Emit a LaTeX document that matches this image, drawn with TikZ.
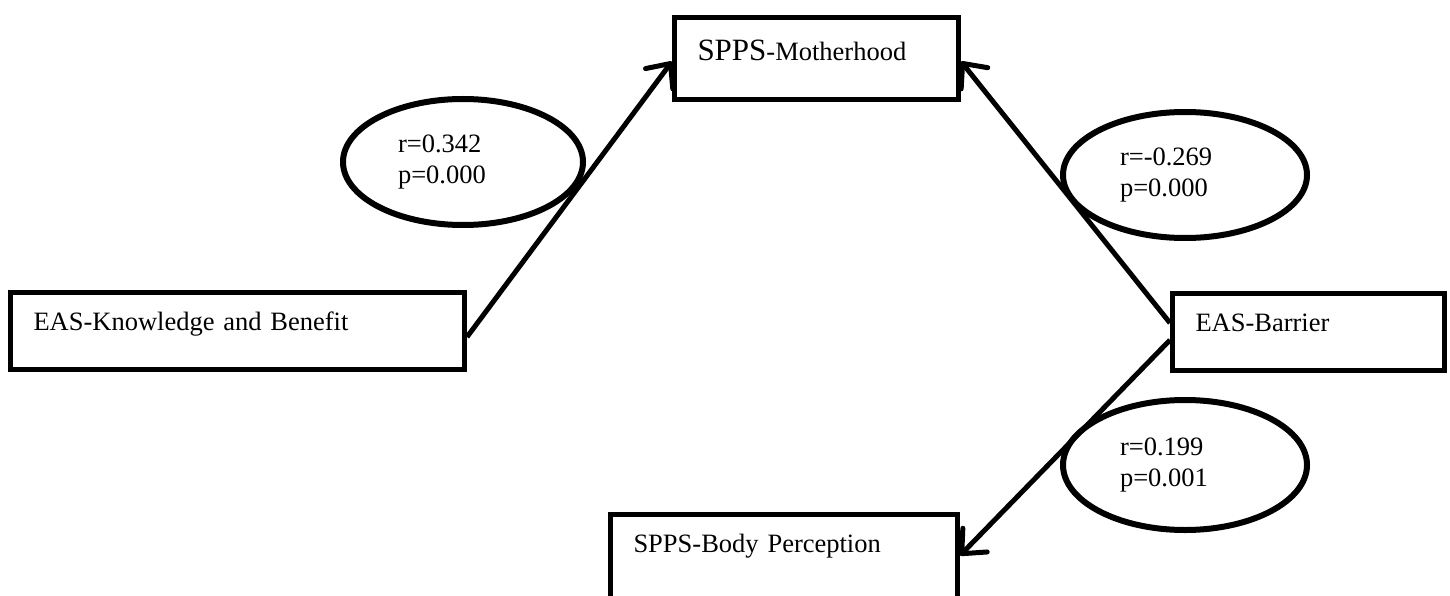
\documentclass[tikz,border=0pt]{standalone}
\usepackage{fontspec}
\setmainfont{Liberation Serif}
\usetikzlibrary{shapes.geometric,arrows.meta}
\tikzset{
  varbox/.style={draw, rectangle, line width=5pt, inner xsep=23pt, inner ysep=0pt,
    text height=38pt, text depth=39pt, align=left, anchor=north west},
  corr/.style={draw, ellipse, line width=6pt, minimum width=240pt, minimum height=126pt,
    inner sep=0pt, text width=130pt, align=left},
  link/.style={line width=5pt, -{Straight Barb[length=19pt,width=34pt,round]}}
}
\begin{document}
\begin{tikzpicture}[x=1pt,y=-1pt,font=\fontsize{26.5}{31}\selectfont]
 \useasboundingbox (0,0) rectangle (1450,596);
 \clip (0,0) rectangle (1450,596);
 % variables
 \node[varbox, text width=238pt, text height=43pt] (moth) at (672,15) {{\fontsize{31}{36}\selectfont SPPS}-Motherhood};
 \node[varbox, text width=408pt] (kb) at (8,290) {EAS-Knowledge and Benefit};
 \node[varbox, text width=226pt] (bar) at (1170,291) {EAS-Barrier};
 \node[varbox, text width=301pt, text depth=50pt] (bp) at (608,512) {SPPS-Body Perception};
 % correlations
 \node[corr] (c1) at (463,162) {r=0.342\\p=0.000};
 \node[corr, minimum width=244pt] (c2) at (1185,175) {r=-0.269\\p=0.000};
 \node[corr, minimum width=244pt, minimum height=130pt] (c3) at (1185,465) {r=0.199\\p=0.001};
 % paths
 \draw[link] ([yshift=-6pt]kb.east) -- ([yshift=-3pt]moth.west);
 \draw[link] ([yshift=9pt]bar.west) -- ([yshift=-3pt]moth.east);
 \draw[link] ([yshift=-8pt]bar.west) -- ([yshift=3pt]bp.east);
\end{tikzpicture}
\end{document}
